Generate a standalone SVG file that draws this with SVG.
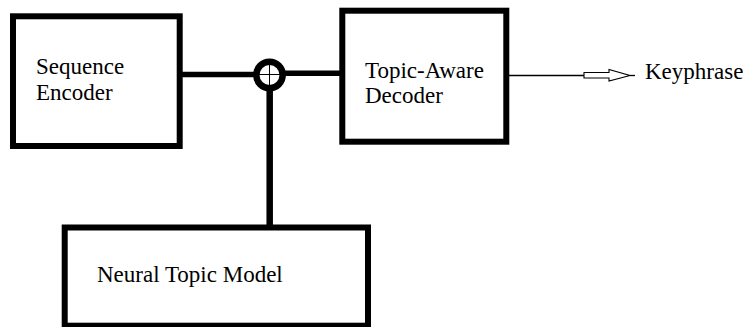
<svg xmlns="http://www.w3.org/2000/svg" width="743" height="327" viewBox="0 0 743 327">
<style>
.box{fill:#fff;stroke:#000;stroke-width:6}
.lbl{font-family:"Liberation Serif","Times New Roman",serif;font-size:23px;fill:#000}
.thick{stroke:#000;stroke-width:5.5;fill:none}
.thin{stroke:#000;stroke-width:1.3;fill:none}
</style>
<rect width="743" height="327" fill="#fff"/>
<g id="connectors">
<line class="thick" x1="182" y1="74.5" x2="256" y2="74.5"/>
<line class="thick" x1="283" y1="73.3" x2="343" y2="73.3"/>
<line x1="269.7" y1="88" x2="269.7" y2="226" stroke="#000" stroke-width="6.5"/>
<line class="thin" x1="506" y1="75.5" x2="584" y2="75.5"/>
<polygon points="584,72.5 609,72.5 609,69.5 630,75.5 609,81 609,78 584,78" fill="#fff" stroke="#000" stroke-width="1.1"/>
<line class="thin" x1="630" y1="75.5" x2="635" y2="75.5"/>
</g>
<g id="sum">
<circle cx="269.5" cy="75" r="13.2" fill="#fff" stroke="#000" stroke-width="6.5"/>
<line x1="259" y1="74.5" x2="280" y2="74.5" stroke="#000" stroke-width="1"/>
<line x1="269.5" y1="65" x2="269.5" y2="85" stroke="#000" stroke-width="1"/>
</g>
<g id="encoder">
<rect class="box" x="13" y="16.3" width="166.7" height="129.7"/>
<text class="lbl" x="36" y="74">Sequence</text>
<text class="lbl" x="36" y="99.5">Encoder</text>
</g>
<g id="decoder">
<rect class="box" x="342.3" y="10.7" width="164" height="131"/>
<text class="lbl" x="365" y="77.5">Topic-Aware</text>
<text class="lbl" x="365" y="103">Decoder</text>
</g>
<g id="ntm">
<rect class="box" x="64.7" y="227.5" width="303.3" height="98.2"/>
<text class="lbl" x="97" y="282">Neural Topic Model</text>
</g>
<g id="output">
<text class="lbl" x="645" y="79">Keyphrase</text>
</g>
</svg>
